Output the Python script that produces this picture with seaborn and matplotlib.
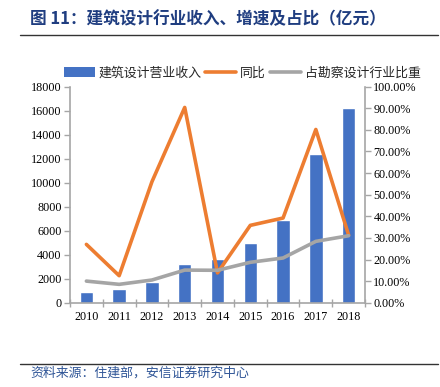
import numpy as np
import pandas as pd
import matplotlib
matplotlib.use("Agg")
import matplotlib.pyplot as plt
from matplotlib.lines import Line2D
from matplotlib.patches import Patch
from matplotlib.ticker import FixedLocator, PercentFormatter
import seaborn as sns

years = ["2010", "2011", "2012", "2013", "2014", "2015", "2016", "2017", "2018"]
revenue = [920, 1140, 1750, 3250, 3640, 4970, 6860, 12390, 16230]
yoy = [27.0, 12.5, 56.0, 90.4, 13.8, 35.8, 39.2, 80.2, 31.3]
share = [10.0, 8.5, 10.5, 15.1, 15.0, 18.7, 20.7, 28.4, 31.0]

title = "图 11：建筑设计行业收入、增速及占比（亿元）"
source = "资料来源：住建部，安信证券研究中心"
labels = ["建筑设计营业收入", "同比", "占勘察设计行业比重"]

sns.set_theme(style="white")
plt.rcParams["font.family"] = ["Noto Sans CJK SC", "DejaVu Sans"]

BLUE = "#4472C4"
ORANGE = "#ED7D31"
GRAY = "#A5A5A5"
TXT = "#1F3D80"

df = pd.DataFrame({"year": years, "revenue": revenue, "yoy": yoy, "share": share})

fig = plt.figure(figsize=(4.4, 3.87), dpi=100)
ax = fig.add_axes([70 / 440, 1 - 302.7 / 387, 295 / 440, 216 / 387])

sns.barplot(data=df, x="year", y="revenue", color=BLUE, width=0.41,
            saturation=1, ax=ax)
ax.set_ylim(0, 18000)
ax.set_xlim(-0.5, 8.5)
ax.set_yticks(np.arange(0, 18001, 2000))
ax.set_xlabel("")
ax.set_ylabel("")

ax2 = ax.twinx()
sns.lineplot(data=df, x="year", y="yoy", color=ORANGE, lw=2.6, ax=ax2)
sns.lineplot(data=df, x="year", y="share", color=GRAY, lw=2.6, ax=ax2)
ax2.set_ylim(0, 100)
ax2.set_xlim(-0.5, 8.5)
ax2.set_yticks(np.arange(0, 101, 10))
ax2.yaxis.set_major_formatter(PercentFormatter(decimals=2))
ax2.set_xlabel("")
ax2.set_ylabel("")

for a in (ax, ax2):
    for s in a.spines.values():
        s.set_visible(False)
    a.grid(False)
ax.spines["left"].set_visible(True)
ax.spines["bottom"].set_visible(True)
ax2.spines["right"].set_visible(True)
for sp in (ax.spines["left"], ax.spines["bottom"], ax2.spines["right"]):
    sp.set_color("#A6A6A6")
    sp.set_linewidth(1.2)

ax.tick_params(axis="y", which="major", direction="out", length=4, color="#A6A6A6",
               width=1, pad=2, left=True)
ax2.tick_params(axis="y", which="major", direction="out", length=4, color="#A6A6A6",
                width=1, pad=2, right=True)
ax.tick_params(axis="x", which="major", length=0, pad=6)
ax.xaxis.set_minor_locator(FixedLocator(np.arange(-0.5, 9, 1)))
ax.tick_params(axis="x", which="minor", direction="inout", length=6, color="#A6A6A6",
               width=1, bottom=True)
for lab in ax.get_xticklabels() + ax.get_yticklabels() + ax2.get_yticklabels():
    lab.set_fontfamily("Liberation Serif")
    lab.set_fontsize(8.7)
    lab.set_color("#000000")

handles = [Patch(facecolor=BLUE, edgecolor="none"),
           Line2D([], [], color=ORANGE, lw=2.6),
           Line2D([], [], color=GRAY, lw=2.6)]
fig.legend(handles, labels, loc="center", bbox_to_anchor=(242 / 440, 1 - 73 / 387),
           ncol=3, frameon=False, fontsize=9.3, handlelength=2.4, handletextpad=0.3,
           columnspacing=0.3, borderaxespad=0)

fig.text(30 / 440, 1 - 19 / 387, title, fontsize=12, fontweight="bold", color=TXT,
         va="center", ha="left")
fig.add_artist(Line2D([20 / 440, 438 / 440], [1 - 35 / 387, 1 - 35 / 387],
                      color="#333333", lw=1.0))
fig.add_artist(Line2D([20 / 440, 438 / 440], [1 - 364 / 387, 1 - 364 / 387],
                      color="#333333", lw=1.0))
fig.text(30 / 440, 1 - 373 / 387, source, fontsize=9.3, style="italic", color="#2F5597",
         va="center", ha="left")

fig.savefig("out.png", dpi=100)
